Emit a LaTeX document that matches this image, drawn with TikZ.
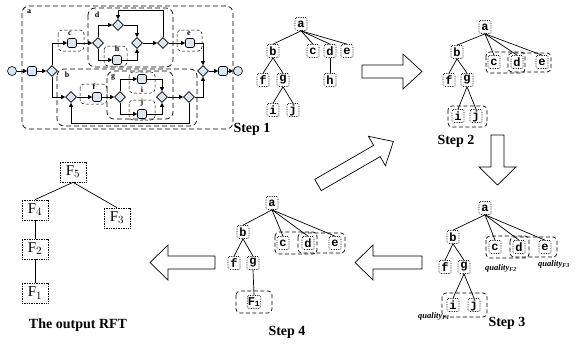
\documentclass[tikz,border=0pt]{standalone}
\usepackage{fontspec}
\setmainfont{Liberation Serif}
\newfontfamily\treefont{Liberation Mono}
\usetikzlibrary{shapes.geometric,arrows.meta}
\definecolor{taskfill}{HTML}{DCE6F2}
\begin{document}
\begin{tikzpicture}[x=1pt,y=-1pt,
 flow/.style={-{Triangle[length=4pt,width=4pt]}, line width=0.6pt},
 plain/.style={line width=0.6pt},
 task/.style={draw, line width=0.6pt, rounded corners=1.5pt, fill=taskfill, minimum size=9pt, inner sep=0pt},
 gw/.style={draw, diamond, line width=0.6pt, fill=taskfill, minimum size=11pt, inner sep=0pt},
 ev/.style={draw, circle, line width=0.6pt, fill=taskfill, minimum size=9pt, inner sep=0pt},
 bigbox/.style={draw, line width=0.7pt, dash pattern=on 5pt off 3pt, rounded corners=7pt},
 taskbr/.style={draw, line width=0.5pt, dash pattern=on 3pt off 2pt, rounded corners=4pt},
 blabel/.style={font=\fontsize{8}{8}\selectfont\bfseries, inner sep=0pt},
 tlabel/.style={font=\fontsize{8}{8}\selectfont\bfseries, inner sep=0pt},
 tn/.style={draw, densely dotted, line width=0.7pt, rounded corners=1.5pt, inner sep=0.5pt, minimum width=12pt, minimum height=13pt, font=\treefont\bfseries\fontsize{12}{12}\selectfont},
 grp/.style={draw, line width=0.7pt, dash pattern=on 4pt off 2.5pt, rounded corners=4pt},
 edge/.style={line width=0.7pt},
 rft/.style={draw, densely dotted, line width=0.7pt, minimum width=26pt, minimum height=20pt, inner sep=0pt, font=\fontsize{15}{15}\selectfont},
 steplbl/.style={font=\fontsize{14}{14}\selectfont\bfseries, inner sep=0pt},
 qual/.style={font=\fontsize{8.5}{9}\selectfont\bfseries\itshape, inner sep=0pt, anchor=west},
 bigarrow/.style={draw, line width=0.7pt, fill=white}
]
\useasboundingbox (0,0) rectangle (585,346);

% ---------------- process model ----------------
\draw[bigbox] (22,6) rectangle (233,129);
\draw[bigbox] (88,8) rectangle (173,67);
\draw[bigbox] (57,69) rectangle (197,126);
\draw[bigbox] (107,71) rectangle (173,119);
\node[blabel] (la) at (29,12) {a};
\node[blabel] (ld) at (97,15) {d};
\node[blabel] (lb) at (67,75) {b};
\node[blabel] (lg) at (113,77) {g};

\node[ev] (s) at (12,71) {};
\node[task] (t1) at (32,71) {};
\node[gw] (g1) at (52,71) {};
\node[task] (tc) at (72,43) {};
\node[gw] (g2) at (98,43) {};
\node[gw] (g3) at (118,25) {};
\node[task] (th) at (117,60) {};
\node[gw] (g4) at (137,43) {};
\node[gw] (g5) at (163,43) {};
\node[task] (te) at (190,43) {};
\node[gw] (g6) at (203,71) {};
\node[task] (t2) at (223,71) {};
\node[ev] (en) at (238,71) {};
\node[gw] (g7) at (71,97) {};
\node[task] (tf) at (97,97) {};
\node[gw] (g8) at (120,97) {};
\node[task] (ti) at (142,79) {};
\node[task] (tj) at (142,114) {};
\node[gw] (g9) at (162,97) {};
\node[gw] (g10) at (189,97) {};

\coordinate (l1) at (163,10);
\coordinate (l2) at (118,10);
\coordinate (l3) at (189,123);
\coordinate (l4) at (71,123);

\draw[flow] (s) -- (t1);
\draw[flow] (t1) -- (g1);
\draw[flow] (g1.north) |- (tc.west);
\draw[flow] (tc) -- (g2);
\draw[flow] (g2.north) |- (g3.west);
\draw[flow] (g2.south) |- (th.west);
\draw[flow] (g3.east) -| (g4.north);
\draw[flow] (th.east) -| (g4.south);
\draw[flow] (g4) -- (g5);
\draw[flow] (g5) -- (te);
\draw[flow] (g5.north) -- (l1) -- (l2) -- (g3.north);
\draw[flow] (te.east) -| (g6.north);
\draw[flow] (g6) -- (t2);
\draw[flow] (t2) -- (en);
\draw[flow] (g1.south) |- (g7.west);
\draw[flow] (g7) -- (tf);
\draw[flow] (tf) -- (g8);
\draw[flow] (g8.north) |- (ti.west);
\draw[flow] (g8.south) |- (tj.west);
\draw[flow] (ti.east) -| (g9.north);
\draw[flow] (tj.east) -| (g9.south);
\draw[flow] (g9) -- (g10);
\draw[flow] (g10.east) -| (g6.south);
\draw[flow] (g10.south) -- (l3) -- (l4) -- (g7.south);

% task brackets and labels
\draw[taskbr] (58,30) rectangle (84,51);
\node[tlabel] (lc) at (70,34) {c};
\draw[taskbr] (104,46) rectangle (127,66);
\node[tlabel] (lh) at (117,49) {h};
\draw[taskbr] (177,30) rectangle (202,51);
\node[tlabel] (le) at (189,34) {e};
\draw[taskbr] (80,84) rectangle (107,104);
\node[tlabel] (lf) at (94,87) {f};
\draw[taskbr] (129,72) rectangle (155,93);
\node[tlabel] (li) at (142,90) {i};
\draw[taskbr] (129,100) rectangle (155,120);
\node[tlabel] (lj) at (142,103) {j};

% ---------------- Step 1 ----------------
\node[tn] (a1) at (301,24) {a};
\node[tn] (b1) at (273,51) {b};
\node[tn] (c1) at (313,51) {c};
\node[tn] (d1) at (330,51) {d};
\node[tn] (e1) at (347,51) {e};
\node[tn] (f1) at (263,80) {f};
\node[tn] (g1t) at (283,80) {g};
\node[tn] (h1) at (330,80) {h};
\node[tn] (i1) at (273,110) {i};
\node[tn] (j1) at (293,110) {j};
\draw[edge] (a1.south) -- (b1.north);
\draw[edge] (a1.south) -- (c1.north);
\draw[edge] (a1.south) -- (d1.north);
\draw[edge] (a1.south) -- (e1.north);
\draw[edge] (b1.south) -- (f1.north);
\draw[edge] (b1.south) -- (g1t.north);
\draw[edge] (d1.south) -- (h1.north);
\draw[edge] (g1t.south) -- (i1.north);
\draw[edge] (g1t.south) -- (j1.north);
\node[steplbl] (s1) at (252,129) {Step 1};

% ---------------- Step 2 ----------------
\node[tn] (a2) at (485,27) {a};
\node[tn] (b2) at (457,52) {b};
\node[tn] (c2) at (494,62) {c};
\node[tn] (d2) at (517,62) {d};
\node[tn] (e2) at (542,62) {e};
\node[tn] (f2) at (449,80) {f};
\node[tn] (g2t) at (467,80) {g};
\node[tn] (i2) at (458,116) {i};
\node[tn] (j2) at (476,116) {j};
\draw[edge] (a2.south) -- (b2.north);
\draw[edge] (a2.south) -- (c2.north);
\draw[edge] (a2.south) -- (d2.north);
\draw[edge] (a2.south) -- (e2.north);
\draw[edge] (b2.south) -- (f2.north);
\draw[edge] (b2.south) -- (g2t.north);
\draw[edge] (g2t.south) -- (i2.north);
\draw[edge] (g2t.south) -- (j2.north);
\draw[grp] (486,52) rectangle (525,73);
\draw[grp] (508,53) rectangle (551,72);
\draw[grp] (448,106) rectangle (487,127);
\node[steplbl] (s2) at (456,141) {Step 2};

% ---------------- Step 3 ----------------
\node[tn] (a3) at (485,208) {a};
\node[tn] (b3) at (453,237) {b};
\node[tn] (c3) at (495,247) {c};
\node[tn] (d3) at (519,247) {d};
\node[tn] (e3) at (545,247) {e};
\node[tn] (f3) at (445,267) {f};
\node[tn] (g3t) at (464,267) {g};
\node[tn] (i3) at (453,305) {i};
\node[tn] (j3) at (474,305) {j};
\draw[edge] (a3.south) -- (b3.north);
\draw[edge] (a3.south) -- (c3.north);
\draw[edge] (a3.south) -- (d3.north);
\draw[edge] (a3.south) -- (e3.north);
\draw[edge] (b3.south) -- (f3.north);
\draw[edge] (b3.south) -- (g3t.north);
\draw[edge] (g3t.south) -- (i3.north);
\draw[edge] (g3t.south) -- (j3.north);
\draw[grp] (486,236) rectangle (529,258);
\draw[grp] (510,237) rectangle (557,257);
\draw[grp] (442,293) rectangle (487,317);
\node[qual] (q2) at (485,268) {quality\textsubscript{F2}};
\node[qual] (q3) at (538,264) {quality\textsubscript{F3}};
\node[qual] (q1) at (418,316) {quality\textsubscript{F1}};
\node[steplbl] (s3) at (507,323) {Step 3};

% ---------------- Step 4 ----------------
\node[tn] (a4) at (272,203) {a};
\node[tn] (b4) at (243,232) {b};
\node[tn] (c4) at (283,243) {c};
\node[tn] (d4) at (308,243) {d};
\node[tn] (e4) at (335,243) {e};
\node[tn] (f4) at (234,263) {f};
\node[tn] (g4t) at (253,263) {g};
\node[tn] (fi4) at (254,302) {F\textsubscript{1}};
\draw[edge] (a4.south) -- (b4.north);
\draw[edge] (a4.south) -- (c4.north);
\draw[edge] (a4.south) -- (d4.north);
\draw[edge] (a4.south) -- (e4.north);
\draw[edge] (b4.south) -- (f4.north);
\draw[edge] (b4.south) -- (g4t.north);
\draw[edge] (g4t.south) -- (fi4.north);
\draw[grp] (275,232) rectangle (317,254);
\draw[grp] (298,233) rectangle (345,253);
\draw[grp] (236,291) rectangle (272,313);
\node[steplbl] (s4) at (287,332) {Step 4};

% ---------------- output RFT ----------------
\node[rft] (r5) at (73,172) {F$_5$};
\node[rft] (r4) at (35,210) {F$_4$};
\node[rft] (r3) at (117,218) {F$_3$};
\node[rft] (r2) at (35,249) {F$_2$};
\node[rft] (r1) at (35,293) {F$_1$};
\draw[edge] (r5.south) -- (r4.north);
\draw[edge] (r5.south) -- (r3.north);
\draw[edge] (r4) -- (r2);
\draw[edge] (r2) -- (r1);
\node[steplbl] (srft) at (78,325) {The output RFT};

% ---------------- big hollow arrows ----------------
\draw[bigarrow] (362,65) -- (403,65) -- (403,54) -- (422,71.5) -- (403,89) -- (403,78) -- (362,78) -- cycle;
\draw[bigarrow] (491,135) -- (504,135) -- (504,167) -- (516,167) -- (497.5,185) -- (479,167) -- (491,167) -- cycle;
\draw[bigarrow] (422,256) -- (373,256) -- (373,245) -- (355,262.5) -- (373,280) -- (373,269) -- (422,269) -- cycle;
\draw[bigarrow] (215,256) -- (168,256) -- (168,245) -- (150,262.5) -- (168,280) -- (168,269) -- (215,269) -- cycle;
\draw[bigarrow, shift={(318,185)}, rotate=30] (0,-6.5) -- (68,-6.5) -- (68,-17) -- (87,0) -- (68,17) -- (68,6.5) -- (0,6.5) -- cycle;
\end{tikzpicture}
\end{document}
